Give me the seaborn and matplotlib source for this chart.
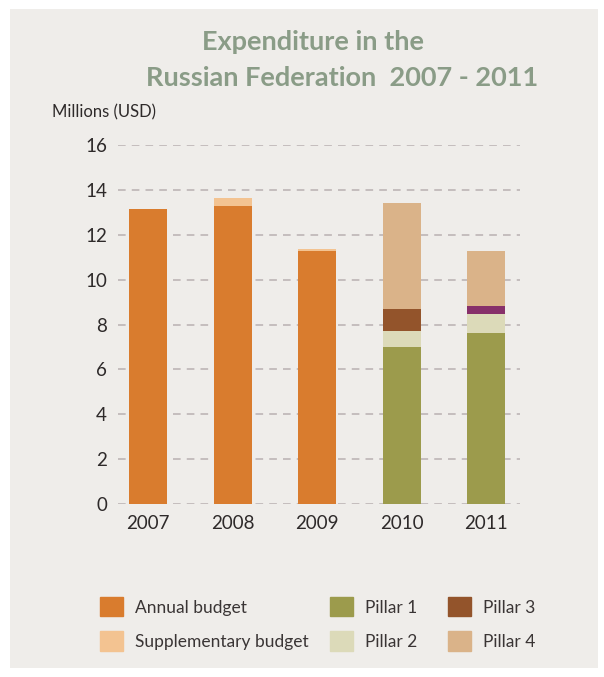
import matplotlib
matplotlib.use("Agg")
import matplotlib.pyplot as plt
import seaborn as sns
from matplotlib.patches import Patch, Rectangle

years = ["2007", "2008", "2009", "2010", "2011"]
annual = [13.15, 13.28, 11.28, 0, 0]
supplementary = [0, 0.38, 0.08, 0, 0]
pillar1 = [0, 0, 0, 7.0, 7.6]
pillar2 = [0, 0, 0, 0.72, 0.87]
pillar3 = [0, 0, 0, 0.95, 0.35]
pillar4 = [0, 0, 0, 4.75, 2.45]

c_annual = "#d97c2e"
c_supp = "#f3c391"
c_p1 = "#9c9b4c"
c_p2 = "#dcdab9"
c_p3 = "#93542b"
c_p3_2011 = "#87306a"
c_p4 = "#dab389"

sns.set_theme(style="white")
plt.rcParams["font.family"] = ["Lato", "DejaVu Sans"]

fig = plt.figure(figsize=(6.04, 6.77), dpi=100)
fig.patch.set_facecolor("white")
fig.patches.append(Rectangle((10 / 604, 9 / 677), 588 / 604, 659 / 677,
                             transform=fig.transFigure, facecolor="#efedea",
                             edgecolor="none", zorder=-10))

ax = fig.add_axes([118 / 604, 173 / 677, 402 / 604, 359 / 677])
ax.set_facecolor("none")

bw = 0.45


def stack(vals, bottom, col):
    sns.barplot(x=years, y=vals, bottom=bottom, color=col, width=bw,
                linewidth=0, saturation=1, ax=ax, zorder=3)
    return [b + v for b, v in zip(bottom, vals)]


bottom = [0] * 5
bottom2 = stack(annual, bottom, c_annual)
stack(supplementary, bottom2, c_supp)
bottom = stack(pillar1, bottom, c_p1)
bottom = stack(pillar2, bottom, c_p2)
# pillar 3 is shown purple in 2011
p3_main = [v if y != "2011" else 0 for y, v in zip(years, pillar3)]
p3_2011 = [v if y == "2011" else 0 for y, v in zip(years, pillar3)]
stack(p3_main, bottom, c_p3)
stack(p3_2011, bottom, c_p3_2011)
bottom = [b + v for b, v in zip(bottom, pillar3)]
stack(pillar4, bottom, c_p4)

ax.set_xlim(-0.355, 4.40)
ax.set_ylim(0, 16)
ax.set_yticks(range(0, 17, 2))
ax.grid(axis="y", color="#b9b0b1", linestyle=(0, (5, 4)), linewidth=1.1, zorder=0)
ax.grid(axis="x", visible=False)
for s in ax.spines.values():
    s.set_visible(False)
ax.tick_params(axis="both", length=0, labelsize=13.5, colors="#2e2a2a")
ax.tick_params(axis="y", pad=8)
ax.tick_params(axis="x", pad=8)
ax.set_xlabel("")
ax.set_ylabel("")

fig.text(52 / 604, 1 - 112 / 677, "Millions (USD)", fontsize=12,
         color="#2e2a2a", va="center", ha="left")

title_c = "#8a9c87"
fig.text(313 / 604, 1 - 42 / 677, "Expenditure in the", fontsize=19.5,
         fontweight="bold", color=title_c, ha="center", va="center")
fig.text(342 / 604, 1 - 78 / 677, "Russian Federation  2007 - 2011", fontsize=19.5,
         fontweight="bold", color=title_c, ha="center", va="center")

labels = ["Annual budget", "Supplementary budget", "Pillar 1", "Pillar 2",
          "Pillar 3", "Pillar 4"]
colors = [c_annual, c_supp, c_p1, c_p2, c_p3, c_p4]
col_x = [100, 330, 448]
for i, x0 in enumerate(col_x):
    hs = [Patch(color=colors[2 * i]), Patch(color=colors[2 * i + 1])]
    leg = fig.legend(hs, labels[2 * i:2 * i + 2], loc="upper left",
                     bbox_to_anchor=(x0 / 604, 1 - 597 / 677), frameon=False,
                     fontsize=12.5, handlelength=1.3, handleheight=1.35,
                     handletextpad=0.7, labelspacing=0.85, borderpad=0,
                     borderaxespad=0)
    for t in leg.get_texts():
        t.set_color("#3a3535")

fig.savefig("out.png", dpi=100)
